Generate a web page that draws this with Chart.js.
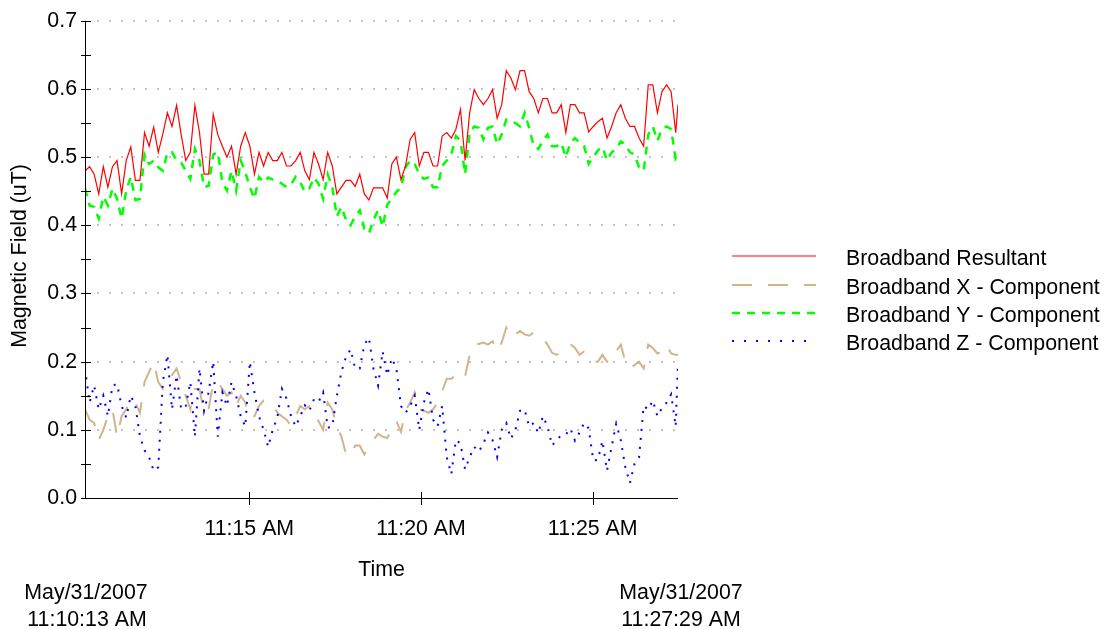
<!DOCTYPE html>
<html>
<head>
<meta charset="utf-8">
<script src="https://cdn.jsdelivr.net/npm/chart.js@4.4.0/dist/chart.umd.min.js"></script>
<style>
  html, body { margin: 0; padding: 0; background: #fff; }
  #wrap { width: 1112px; height: 629px; position: relative; }
</style>
</head>
<body>
<div id="wrap"><canvas id="chartField" width="1112" height="629"></canvas></div>
<script>
// seconds after the first sample (11:10:13 AM)
const seconds = [
  0, 8, 16, 24, 32, 40, 48, 56, 64, 72,
  80, 88, 96, 104, 112, 120, 128, 136, 144, 152,
  160, 168, 176, 184, 192, 200, 208, 216, 224, 232,
  240, 248, 256, 264, 272, 280, 288, 296, 304, 312,
  320, 328, 336, 344, 352, 360, 368, 376, 384, 392,
  400, 408, 416, 424, 432, 440, 448, 456, 464, 472,
  480, 488, 496, 504, 512, 520, 528, 536, 544, 552,
  560, 568, 576, 584, 592, 600, 608, 616, 624, 632,
  640, 648, 656, 664, 672, 680, 688, 696, 704, 712,
  720, 728, 736, 744, 752, 760, 768, 776, 784, 792,
  800, 808, 816, 824, 832, 840, 848, 856, 864, 872,
  880, 888, 896, 904, 912, 920, 928, 936, 944, 952,
  960, 968, 976, 984, 992, 1000, 1008, 1016, 1024, 1032,
  1036
];

const resultant = [
  0.480, 0.486, 0.475, 0.446, 0.486, 0.456, 0.486, 0.495, 0.446, 0.495,
  0.515, 0.466, 0.466, 0.536, 0.516, 0.544, 0.507, 0.534, 0.565, 0.545,
  0.576, 0.533, 0.495, 0.507, 0.576, 0.536, 0.475, 0.475, 0.563, 0.533,
  0.516, 0.500, 0.516, 0.475, 0.516, 0.536, 0.516, 0.475, 0.507, 0.487,
  0.507, 0.495, 0.495, 0.507, 0.487, 0.487, 0.495, 0.507, 0.480, 0.467,
  0.507, 0.490, 0.467, 0.507, 0.487, 0.446, 0.456, 0.466, 0.466, 0.457,
  0.475, 0.446, 0.437, 0.455, 0.455, 0.455, 0.440, 0.490, 0.500, 0.467,
  0.487, 0.526, 0.536, 0.487, 0.507, 0.507, 0.487, 0.487, 0.531, 0.536,
  0.528, 0.541, 0.570, 0.495, 0.565, 0.599, 0.586, 0.577, 0.586, 0.599,
  0.557, 0.577, 0.627, 0.616, 0.599, 0.627, 0.627, 0.596, 0.586, 0.565,
  0.586, 0.586, 0.565, 0.565, 0.577, 0.536, 0.577, 0.577, 0.565, 0.565,
  0.537, 0.545, 0.552, 0.557, 0.528, 0.545, 0.565, 0.577, 0.557, 0.545,
  0.545, 0.528, 0.516, 0.606, 0.606, 0.565, 0.596, 0.606, 0.596, 0.536,
  0.577
];

const xComponent = [
  0.130, 0.115, 0.110, 0.085, 0.100, 0.120, 0.130, 0.090, 0.120, 0.130,
  0.145, 0.140, 0.125, 0.170, 0.185, 0.200, 0.170, 0.160, 0.175, 0.180,
  0.190, 0.170, 0.150, 0.130, 0.160, 0.160, 0.125, 0.130, 0.170, 0.170,
  0.160, 0.150, 0.155, 0.135, 0.150, 0.140, 0.117, 0.120, 0.135, 0.143,
  0.143, 0.137, 0.125, 0.120, 0.115, 0.106, 0.120, 0.135, 0.130, 0.135,
  0.120, 0.113, 0.100, 0.140, 0.130, 0.105, 0.090, 0.064, 0.062, 0.077,
  0.077, 0.064, 0.075, 0.085, 0.094, 0.090, 0.088, 0.100, 0.113, 0.097,
  0.128, 0.140, 0.155, 0.130, 0.128, 0.125, 0.130, 0.140, 0.157, 0.175,
  0.175, 0.180, 0.185, 0.178, 0.210, 0.226, 0.226, 0.228, 0.225, 0.230,
  0.215, 0.228, 0.250, 0.235, 0.240, 0.245, 0.240, 0.238, 0.243, 0.240,
  0.235, 0.225, 0.213, 0.210, 0.215, 0.220, 0.226, 0.220, 0.210, 0.215,
  0.210, 0.200, 0.200, 0.210, 0.200, 0.200, 0.215, 0.225, 0.200, 0.190,
  0.195, 0.200, 0.190, 0.225, 0.220, 0.212, 0.215, 0.225, 0.212, 0.210,
  0.210
];

const yComponent = [
  0.454, 0.429, 0.427, 0.410, 0.442, 0.429, 0.454, 0.439, 0.410, 0.451,
  0.471, 0.437, 0.439, 0.504, 0.490, 0.495, 0.485, 0.480, 0.507, 0.507,
  0.495, 0.492, 0.480, 0.468, 0.512, 0.495, 0.456, 0.458, 0.504, 0.507,
  0.463, 0.451, 0.480, 0.451, 0.495, 0.478, 0.456, 0.439, 0.471, 0.463,
  0.470, 0.467, 0.465, 0.461, 0.456, 0.460, 0.471, 0.463, 0.449, 0.454,
  0.470, 0.461, 0.439, 0.475, 0.456, 0.413, 0.427, 0.408, 0.400, 0.413,
  0.422, 0.395, 0.388, 0.408, 0.422, 0.398, 0.430, 0.439, 0.449, 0.455,
  0.485, 0.495, 0.490, 0.475, 0.468, 0.470, 0.456, 0.456, 0.487, 0.495,
  0.504, 0.531, 0.524, 0.475, 0.536, 0.545, 0.543, 0.526, 0.543, 0.545,
  0.519, 0.533, 0.555, 0.553, 0.550, 0.545, 0.565, 0.543, 0.516, 0.512,
  0.524, 0.533, 0.516, 0.516, 0.521, 0.500, 0.521, 0.528, 0.521, 0.516,
  0.490, 0.500, 0.510, 0.515, 0.495, 0.507, 0.512, 0.523, 0.519, 0.507,
  0.504, 0.485, 0.480, 0.533, 0.545, 0.524, 0.541, 0.545, 0.541, 0.497,
  0.500
];

const zComponent = [
  0.190, 0.140, 0.165, 0.130, 0.150, 0.120, 0.165, 0.167, 0.135, 0.118,
  0.150, 0.135, 0.090, 0.070, 0.060, 0.040, 0.045, 0.170, 0.210, 0.130,
  0.180, 0.130, 0.135, 0.170, 0.090, 0.190, 0.128, 0.155, 0.200, 0.090,
  0.155, 0.135, 0.170, 0.150, 0.120, 0.105, 0.200, 0.155, 0.120, 0.100,
  0.075, 0.100, 0.118, 0.160, 0.146, 0.120, 0.105, 0.120, 0.136, 0.128,
  0.145, 0.141, 0.155, 0.103, 0.105, 0.150, 0.185, 0.207, 0.218, 0.190,
  0.190, 0.225, 0.235, 0.190, 0.165, 0.215, 0.180, 0.205, 0.190, 0.135,
  0.125, 0.135, 0.150, 0.100, 0.140, 0.160, 0.115, 0.105, 0.135, 0.060,
  0.035, 0.085, 0.080, 0.042, 0.060, 0.075, 0.068, 0.080, 0.096, 0.085,
  0.060, 0.100, 0.110, 0.087, 0.100, 0.128, 0.130, 0.105, 0.110, 0.095,
  0.120, 0.105, 0.077, 0.085, 0.092, 0.093, 0.102, 0.084, 0.096, 0.110,
  0.102, 0.055, 0.056, 0.084, 0.040, 0.075, 0.109, 0.085, 0.045, 0.022,
  0.050, 0.060, 0.135, 0.130, 0.143, 0.120, 0.132, 0.140, 0.152, 0.105,
  0.200
];

const seriesNames = [
  'Broadband Resultant',
  'Broadband X - Component',
  'Broadband Y - Component',
  'Broadband Z - Component'
];

const fieldTicks = [0, 0.1, 0.2, 0.3, 0.4, 0.5, 0.6, 0.7];
const timeTicks = [287, 587, 887];
const timeTickLabels = ['11:15 AM', '11:20 AM', '11:25 AM'];
const startStamp = ['May/31/2007', '11:10:13 AM'];
const endStamp = ['May/31/2007', '11:27:29 AM'];

const FONT = "'Liberation Sans', Arial, sans-serif";
const FONT_SIZE = 21.33;
Chart.defaults.font.family = FONT;
Chart.defaults.font.size = FONT_SIZE;
Chart.defaults.color = '#000';

function toPoints(values) {
    return seconds.map((s, i) => ({ x: s, y: values[i] }));
}

// gridlines, axis lines, tick marks, titles and legend
const framePlugin = {
    id: 'framePlugin',
    beforeDatasetsDraw(chart) {
        const { ctx, chartArea: area, scales: { y } } = chart;
        ctx.save();
        ctx.strokeStyle = '#c4c4c4';
        ctx.lineWidth = 2;
        ctx.setLineDash([2, 10]);
        fieldTicks.forEach(v => {
            if (v === 0) return;
            const py = Math.round(y.getPixelForValue(v));
            ctx.beginPath();
            ctx.moveTo(area.left + 12, py);
            ctx.lineTo(area.right, py);
            ctx.stroke();
        });
        ctx.restore();
    },
    afterDatasetsDraw(chart) {
        const { ctx, chartArea: area, scales: { x, y } } = chart;
        ctx.save();
        ctx.strokeStyle = '#000';
        ctx.lineWidth = 1;
        ctx.setLineDash([]);

        // axis lines
        ctx.beginPath();
        ctx.moveTo(area.left + 0.5, area.top);
        ctx.lineTo(area.left + 0.5, area.bottom + 0.5);
        ctx.lineTo(area.right, area.bottom + 0.5);
        ctx.stroke();

        // y tick marks (major and half steps), crossing the axis
        for (let i = 0; i < fieldTicks.length; i++) {
            const v = fieldTicks[i];
            [v, v + 0.05].forEach(val => {
                if (val > 0.7 + 1e-9) return;
                const py = Math.round(y.getPixelForValue(val)) + 0.5;
                ctx.beginPath();
                ctx.moveTo(area.left - 4, py);
                ctx.lineTo(area.left + 6, py);
                ctx.stroke();
            });
        }
        // x tick marks
        timeTicks.forEach(t => {
            const px = Math.round(x.getPixelForValue(t)) + 0.5;
            ctx.beginPath();
            ctx.moveTo(px, area.bottom - 6);
            ctx.lineTo(px, area.bottom + 7);
            ctx.stroke();
        });

        // titles
        ctx.fillStyle = '#000';
        ctx.font = FONT_SIZE + 'px ' + FONT;
        ctx.textAlign = 'center';
        ctx.textBaseline = 'middle';
        ctx.fillText('Time', (area.left + area.right) / 2, 570);
        ctx.fillText(startStamp[0], area.left + 1, 593);
        ctx.fillText(startStamp[1], area.left + 2, 620);
        ctx.fillText(endStamp[0], area.right + 3, 593);
        ctx.fillText(endStamp[1], area.right + 3, 620);

        ctx.save();
        ctx.translate(20, 256);
        ctx.rotate(-Math.PI / 2);
        ctx.fillText('Magnetic Field (uT)', 0, 0);
        ctx.restore();

        // legend
        const rows = [256, 285, 313, 341];
        ctx.textAlign = 'left';
        chart.data.datasets.forEach((ds, i) => {
            const ly = rows[i];
            ctx.save();
            ctx.strokeStyle = ds.borderColor;
            ctx.lineWidth = ds.borderWidth;
            ctx.setLineDash(i === 3 ? [2, 10] : (ds.borderDash || []));
            ctx.beginPath();
            ctx.moveTo(732, ly);
            ctx.lineTo(816, ly);
            ctx.stroke();
            ctx.restore();
            ctx.fillText(ds.label, 846, ly + 3);
        });
        ctx.restore();
    }
};

const ctxField = document.getElementById('chartField');
new Chart(ctxField, {
    type: 'line',
    data: {
        datasets: [
            {
                label: seriesNames[0],
                data: toPoints(resultant),
                borderColor: '#ff0000',
                borderWidth: 1.2,
                borderDash: [],
                order: 2
            },
            {
                label: seriesNames[1],
                data: toPoints(xComponent),
                borderColor: '#d2b48c',
                borderWidth: 2,
                borderDash: [20, 16],
                order: 4
            },
            {
                label: seriesNames[2],
                data: toPoints(yComponent),
                borderColor: '#00ff00',
                borderWidth: 2.5,
                borderDash: [8, 7],
                order: 3
            },
            {
                label: seriesNames[3],
                data: toPoints(zComponent),
                borderColor: '#0000ff',
                borderWidth: 2,
                borderDash: [2, 7],
                order: 1
            }
        ]
    },
    options: {
        responsive: false,
        animation: false,
        events: [],
        layout: {
            padding: { top: 15, right: 434, left: 0, bottom: 0 }
        },
        elements: {
            point: { radius: 0 },
            line: { tension: 0, borderCapStyle: 'butt', borderJoinStyle: 'miter' }
        },
        plugins: {
            legend: { display: false },
            tooltip: { enabled: false }
        },
        scales: {
            x: {
                type: 'linear',
                min: 0,
                max: 1036,
                grid: { display: false, drawTicks: false },
                border: { display: false },
                afterFit: function(scale) { scale.height = 131; },
                afterBuildTicks: function(scale) {
                    scale.ticks = timeTicks.map(v => ({ value: v }));
                },
                ticks: {
                    autoSkip: false,
                    maxRotation: 0,
                    padding: 18,
                    font: { size: FONT_SIZE },
                    callback: function(value, index) {
                        return timeTickLabels[index];
                    }
                }
            },
            y: {
                min: 0,
                max: 0.7,
                grid: { display: false, drawTicks: false },
                border: { display: false },
                afterFit: function(scale) { scale.width = 85; },
                afterBuildTicks: function(scale) {
                    scale.ticks = fieldTicks.map(v => ({ value: v }));
                },
                ticks: {
                    padding: 8,
                    font: { size: FONT_SIZE },
                    callback: function(value) {
                        return value.toFixed(1);
                    }
                }
            }
        }
    },
    plugins: [framePlugin]
});
</script>
</body>
</html>
